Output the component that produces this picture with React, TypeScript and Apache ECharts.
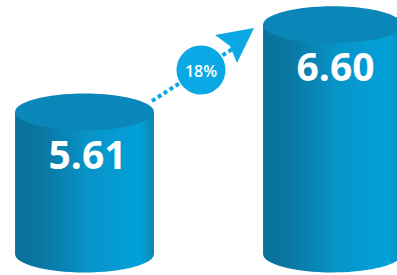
import React, { useEffect, useRef } from "react";
import * as echarts from "echarts";

const categories = ["A", "B"];
const values = [5.61, 6.6];
const valueLabels = ["5.61", "6.60"];
const growthLabel = "18%";
const axisMin = 4;
const axisMax = 6.88;

export default function App() {
  const ref = useRef<HTMLDivElement>(null);

  useEffect(() => {
    if (!ref.current) return;
    const chart = echarts.init(ref.current, null, { renderer: "svg" });

    const bodyGradient = () =>
      new echarts.graphic.LinearGradient(0, 0, 1, 0, [
        { offset: 0, color: "#08709b" },
        { offset: 0.2, color: "#0a77a3" },
        { offset: 0.55, color: "#0795ca" },
        { offset: 0.9, color: "#02a1d9" },
        { offset: 0.95, color: "#0794c8" },
        { offset: 1, color: "#0a82b0" },
      ]);

    const option: any = {
      animation: false,
      grid: { left: 84.5, right: 64.5, top: 0, bottom: 21 },
      xAxis: {
        type: "category",
        data: categories,
        boundaryGap: false,
        show: false,
      },
      yAxis: {
        type: "value",
        min: axisMin,
        max: axisMax,
        show: false,
      },
      series: [
        {
          type: "custom",
          clip: false,
          data: values.map((v, i) => [i, v]),
          renderItem: (params: any, api: any) => {
            const idx = api.value(0);
            const v = api.value(1);
            const top = api.coord([idx, v]);
            const bot = api.coord([idx, axisMin]);
            const rx = api.size([1, 0])[0] * 0.28;
            const ry = 18.5;
            const cx = top[0];
            return {
              type: "group",
              children: [
                {
                  type: "rect",
                  shape: { x: cx - rx, y: top[1], width: rx * 2, height: bot[1] - top[1] },
                  style: { fill: bodyGradient() },
                },
                {
                  type: "ellipse",
                  shape: { cx, cy: bot[1], rx, ry },
                  style: { fill: bodyGradient() },
                },
                {
                  type: "ellipse",
                  shape: { cx, cy: top[1], rx, ry },
                  style: { fill: "#0a87b8" },
                },
                {
                  type: "text",
                  x: cx + 3,
                  y: top[1] + 41,
                  style: {
                    text: valueLabels[idx],
                    fill: "#ffffff",
                    font: "bold 39px 'Open Sans'",
                    align: "center",
                    verticalAlign: "middle",
                  },
                },
              ],
            };
          },
        },
      ],
      graphic: [
        {
          type: "line",
          shape: { x1: 152, y1: 101, x2: 234, y2: 48 },
          style: { stroke: "#0aa9e6", lineWidth: 4, lineDash: [4, 3] },
        },
        {
          type: "polygon",
          shape: { points: [[254, 28], [215, 35], [230, 46], [237, 63]] },
          style: { fill: "#0aa9e6" },
        },
        {
          type: "circle",
          shape: { cx: 201, cy: 70, r: 24.5 },
          style: { fill: "#0aa9e6" },
        },
        {
          type: "text",
          x: 201,
          y: 71,
          style: {
            text: growthLabel,
            fill: "#ffffff",
            font: "600 16px 'Open Sans'",
            align: "center",
            verticalAlign: "middle",
          },
        },
      ],
    };

    chart.setOption(option);
    return () => chart.dispose();
  }, []);

  return (
    <div
      ref={ref}
      style={{ position: "fixed", left: 0, top: 0, width: 397, height: 275, background: "#ffffff" }}
    />
  );
}
